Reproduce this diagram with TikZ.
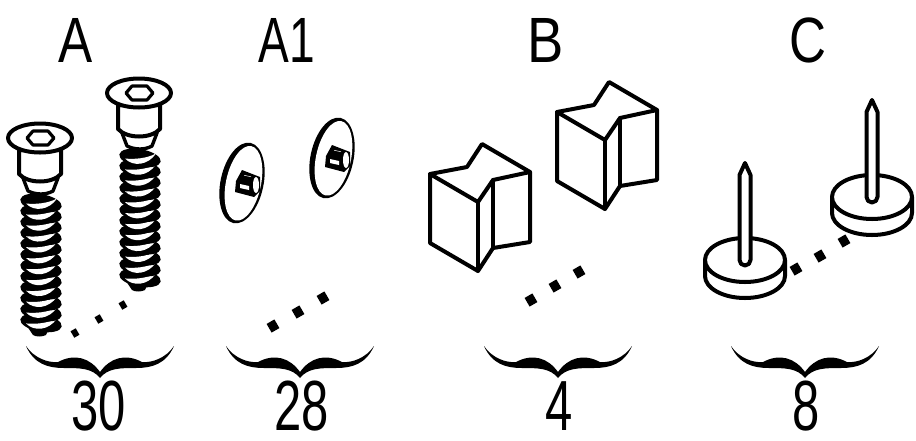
\documentclass[tikz,border=0pt]{standalone}
\usepackage{fontspec}
\setmainfont{Liberation Sans}
\newcommand{\cond}[2]{\scalebox{#1}[1]{#2}}
\tikzset{
  ink/.style={draw=black,line width=4pt,line join=round,line cap=round},
  head/.style={font=\fontsize{64}{64}\selectfont,inner sep=0pt,anchor=base},
  count/.style={font=\fontsize{71}{71}\selectfont,inner sep=0pt,anchor=base},
  dotA/.style={fill=black,draw=none,minimum width=6pt,minimum height=7.5pt,inner sep=0pt,rotate=30},
  dotB/.style={fill=black,draw=none,minimum width=9pt,minimum height=10pt,inner sep=0pt,rotate=30},
  pics/screw/.style={code={
    \fill[black] (27,326) -- (52,322) -- (46,335) .. controls (42,337) and (36,337) .. (33,335) -- cycle;
    \foreach \k in {11,10,...,0}{
      \begin{scope}[shift={(41,203+\k*10.9)}]
        \fill[black,rotate=-10] (0,0) ellipse [x radius=21,y radius=8.8];
        \fill[white] (-15,0.5) .. controls (-7,9) and (8,7.5) .. (16,-4.5) .. controls (7,0.5) and (-6,1.5) .. (-15,0.5) -- cycle;
      \end{scope}
    }
    \path[ink,fill=white,line width=3.4pt] (23,178) -- (28,191) .. controls (36,195) and (46,195) .. (53,191) -- (58,178) -- cycle;
    \path[ink,fill=white] (19,150) -- (19,174) .. controls (28,184) and (52,184) .. (61,174) -- (61,150) -- cycle;
    \path[ink,fill=white] (40,138) ellipse [x radius=32,y radius=14.5];
    \path[ink,fill=white,line width=3.2pt] (27,138) -- (33,131) -- (48,131) -- (54,138) -- (48,145) -- (33,145) -- cycle;
  }},
  pics/disc/.style={code={
    \begin{scope}[rotate=-12]
      \fill[black] (0,0) ellipse [x radius=21.5,y radius=41];
      \fill[white] (1.5,0) ellipse [x radius=17.5,y radius=38];
    \end{scope}
    \fill[black] (-6,-2) -- (0,-13) -- (18,-6) -- (18,8) -- (12,14) -- (-7,9) -- cycle;
    \fill[white] (-2,1) -- (7,3) -- (7,7) -- (-2,5) -- cycle;
    \fill[white] (14,2) ellipse [x radius=3,y radius=8];
    \fill[white] (2,-8) -- (9,-6.5) -- (9,-6) -- (2,-7.5) -- cycle;
  }},
  pics/block/.style={code={
    \path[ink,fill=white] (430,174) -- (467,167) -- (482,144) -- (530,172) -- (530,242) -- (493,248) -- (478,271) -- (430,243) -- cycle;
    \path[ink] (430,174) -- (478,202) -- (493,180) -- (530,172);
    \path[ink] (478,202) -- (478,271);
    \path[ink] (493,180) -- (493,248);
  }},
  pics/pin/.style={code={
    \path[ink,fill=white] (-40,0) -- (-40,16) arc[start angle=180,end angle=0,x radius=40,y radius=22] -- (40,0) -- cycle;
    \path[ink,fill=white] (0,0) ellipse [x radius=40,y radius=22];
    \path[ink,fill=white] (-5.5,-85) -- (-5.5,0) arc[start angle=180,end angle=0,radius=5.5] -- (5.5,-85) -- (0,-97) -- cycle;
  }},
  pics/bracket/.style={code={
    \fill[black] (-74,-32) .. controls (-66,-14) and (-52,-10) .. (-36,-10)
      .. controls (-20,-10) and (-8,-10) .. (0,0)
      .. controls (8,-10) and (20,-10) .. (36,-10)
      .. controls (52,-10) and (66,-14) .. (74,-32)
      .. controls (66,-20) and (52,-15) .. (42,-16)
      .. controls (25,-25) and (10,-20) .. (0,-6)
      .. controls (-10,-20) and (-25,-25) .. (-42,-16)
      .. controls (-52,-15) and (-66,-20) .. (-74,-32) -- cycle;
  }}
}
\begin{document}
\begin{tikzpicture}[x=1pt,y=-1pt]
\useasboundingbox (0,0) rectangle (916,440);
\node[head] (la) at (76,62) {\cond{.8}{A}};
\node[head] (la1) at (287,62) {\cond{.72}{A1}};
\node[head] (lb) at (546,62) {\cond{.85}{B}};
\node[head] (lc) at (808,62) {\cond{.8}{C}};
\pic at (0,0) {screw};
\pic at (99,-45) {screw};
\pic at (242,183) {disc};
\pic at (332,158) {disc};
\pic at (0,0) {block};
\pic at (127,-62) {block};
\pic at (745,260) {pin};
\pic at (872,197) {pin};
\node[dotA] (a1) at (75,333) {};
\node[dotA] (a2) at (99,319) {};
\node[dotA] (a3) at (123,305) {};
\node[dotB] (b1) at (273,326) {};
\node[dotB] (b2) at (298,312) {};
\node[dotB] (b3) at (323,298) {};
\node[dotB] (c1) at (531,300) {};
\node[dotB] (c2) at (555,286) {};
\node[dotB] (c3) at (579,272) {};
\node[dotB] (d1) at (796,269) {};
\node[dotB] (d2) at (820,256) {};
\node[dotB] (d3) at (844,241) {};
\pic at (100,378) {bracket};
\pic at (300,378) {bracket};
\pic at (558,378) {bracket};
\pic at (805,378) {bracket};
\node[count] (n1) at (99,430) {\cond{.69}{30}};
\node[count] (n2) at (302,430) {\cond{.69}{28}};
\node[count] (n3) at (559,430) {\cond{.69}{4}};
\node[count] (n4) at (806,430) {\cond{.69}{8}};
\end{tikzpicture}
\end{document}
